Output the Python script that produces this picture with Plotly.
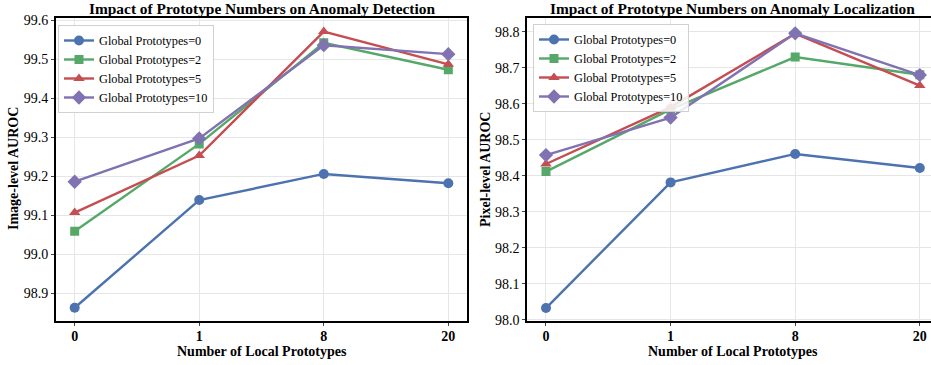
import plotly.graph_objects as go

W, H = 931, 365

local_prototypes = ["0", "1", "8", "20"]
series_names = ["Global Prototypes=0", "Global Prototypes=2",
                "Global Prototypes=5", "Global Prototypes=10"]

# Image-level AUROC (left)
image_gp0 = [98.863, 99.139, 99.206, 99.182]
image_gp2 = [99.059, 99.283, 99.542, 99.473]
image_gp5 = [99.107, 99.253, 99.571, 99.487]
image_gp10 = [99.186, 99.297, 99.536, 99.513]

# Pixel-level AUROC (right)
pixel_gp0 = [98.033, 98.382, 98.461, 98.422]
pixel_gp2 = [98.412, 98.585, 98.730, 98.681]
pixel_gp5 = [98.433, 98.591, 98.795, 98.651]
pixel_gp10 = [98.458, 98.562, 98.796, 98.680]

left_ticks = [98.9, 99.0, 99.1, 99.2, 99.3, 99.4, 99.5, 99.6]
right_ticks = [98.0, 98.1, 98.2, 98.3, 98.4, 98.5, 98.6, 98.7, 98.8]

colors = ["#4C72B0", "#55A868", "#C44E52", "#8172B2"]
symbols = ["circle", "square", "triangle-up", "diamond"]
msizes = [10, 9, 10, 11]
FONT = "Liberation Serif, Times New Roman, serif"

fig = go.Figure()

left_data = [image_gp0, image_gp2, image_gp5, image_gp10]
right_data = [pixel_gp0, pixel_gp2, pixel_gp5, pixel_gp10]

for i, (name, vals) in enumerate(zip(series_names, left_data)):
    fig.add_trace(go.Scatter(
        x=local_prototypes, y=vals, name=name, mode="lines+markers",
        line=dict(color=colors[i], width=2.4),
        marker=dict(symbol=symbols[i], size=msizes[i], color=colors[i]),
        xaxis="x", yaxis="y", legend="legend"))

for i, (name, vals) in enumerate(zip(series_names, right_data)):
    fig.add_trace(go.Scatter(
        x=local_prototypes, y=vals, name=name, mode="lines+markers",
        line=dict(color=colors[i], width=2.4),
        marker=dict(symbol=symbols[i], size=msizes[i], color=colors[i]),
        xaxis="x2", yaxis="y2", legend="legend2"))

def px(x):
    return x / W

def py(y):
    return 1 - y / H

y_dom = [py(321), py(17.5)]

xcommon = dict(type="category", categoryorder="array", categoryarray=local_prototypes,
               showgrid=True, gridcolor="#e6e6e6", gridwidth=1,
               showline=True, linecolor="black", linewidth=2,
               ticks="outside", ticklen=3, tickcolor="#444", tickwidth=1,
               tickfont=dict(family=FONT, size=14, color="black", weight="bold"),
               zeroline=False, automargin=False, ticklabelstandoff=-2)
ycommon = dict(showgrid=True, gridcolor="#e6e6e6", gridwidth=1,
               showline=True, linecolor="black", linewidth=2,
               ticks="outside", ticklen=3, tickcolor="#444", tickwidth=1,
               tickfont=dict(family=FONT, size=14, color="black"),
               zeroline=False, automargin=False)

fig.update_layout(
    width=W, height=H,
    margin=dict(l=0, r=0, t=0, b=0, autoexpand=False),
    paper_bgcolor="white", plot_bgcolor="white",
    font=dict(family=FONT, color="black"),
    xaxis=dict(xcommon, domain=[px(56), px(467)], range=[-0.15, 3.15],
               mirror=True, anchor="y"),
    yaxis=dict(ycommon, domain=y_dom, range=[98.829, 99.607], mirror=True,
               tickvals=left_ticks, ticktext=[f"{v:.1f}" for v in left_ticks],
               anchor="x"),
    xaxis2=dict(xcommon, domain=[px(527.3), 1.0], range=[-0.15, 3.09],
                mirror=True, anchor="y2"),
    yaxis2=dict(ycommon, domain=y_dom, range=[97.997, 98.840], mirror=False,
                tickvals=right_ticks, ticktext=[f"{v:.1f}" for v in right_ticks],
                anchor="x2"),
    legend=dict(x=px(58), y=py(25), xanchor="left", yanchor="top",
                bgcolor="rgba(255,255,255,0.85)", bordercolor="#d0d0d0", borderwidth=1,
                font=dict(family=FONT, size=12.3, color="black"), tracegroupgap=0),
    legend2=dict(x=px(533), y=py(24), xanchor="left", yanchor="top",
                 bgcolor="rgba(255,255,255,0.85)", bordercolor="#d0d0d0", borderwidth=1,
                 font=dict(family=FONT, size=12.3, color="black"), tracegroupgap=0),
    showlegend=True,
)

annos = [
    dict(text="<b>Impact of Prototype Numbers on Anomaly Detection</b>",
         x=px(261.5), y=py(8.5), size=15.4),
    dict(text="<b>Impact of Prototype Numbers on Anomaly Localization</b>",
         x=px(732.6), y=py(8.5), size=15.4),
    dict(text="<b>Number of Local Prototypes</b>", x=px(261.5), y=py(351), size=14),
    dict(text="<b>Number of Local Prototypes</b>", x=px(732.6), y=py(351), size=14),
]
for a in annos:
    fig.add_annotation(text=a["text"], x=a["x"], y=a["y"], xref="paper", yref="paper",
                       xanchor="center", yanchor="middle", showarrow=False,
                       font=dict(family=FONT, size=a["size"], color="black"))

fig.add_annotation(text="<b>Image-level AUROC</b>", x=px(13), y=py(169), xref="paper",
                   yref="paper", xanchor="center", yanchor="middle", showarrow=False,
                   textangle=-90, font=dict(family=FONT, size=14, color="black"))
fig.add_annotation(text="<b>Pixel-level AUROC</b>", x=px(485), y=py(169), xref="paper",
                   yref="paper", xanchor="center", yanchor="middle", showarrow=False,
                   textangle=-90, font=dict(family=FONT, size=14, color="black"))

fig.write_html("out.html", config={"displayModeBar": False},
               post_script="document.body.style.margin='0px';document.body.style.overflow='hidden';")
